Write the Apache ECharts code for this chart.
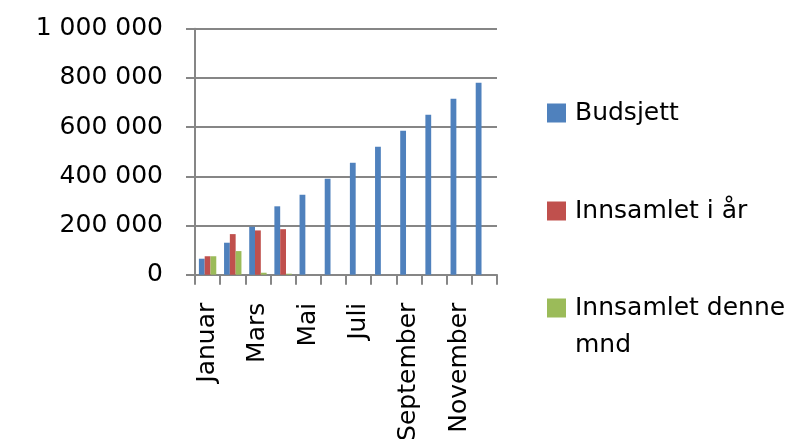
<!DOCTYPE html>
<html>
<head>
<meta charset="utf-8">
<script src="https://cdn.jsdelivr.net/npm/echarts@6/dist/echarts.min.js"></script>
<style>html,body{margin:0;padding:0;background:#fff}#c{width:788px;height:439px}</style>
</head>
<body>
<div id="c"></div>
<script>
const months = ['Januar','Februar','Mars','April','Mai','Juni','Juli','August','September','Oktober','November','Desember'];
const budsjett = [65000,130000,195000,278000,325000,390000,455000,520000,585000,650000,715000,780000];
const innsamletIAar = [75000,165000,180000,185000,null,null,null,null,null,null,null,null];
const innsamletDenneMnd = [75000,96000,8000,4000,null,null,null,null,null,null,null,null];
const yTicks = [0,200000,400000,600000,800000,1000000];

const FONT = 'DejaVu Sans';
const fmt = v => String(v).replace(/\B(?=(\d{3})+(?!\d))/g, ' ');
const chart = echarts.init(document.getElementById('c'), null, {renderer:'canvas'});
const legendBase = {
  orient:'vertical', left:542, itemWidth:19, itemHeight:19, itemGap:0,
  icon:'rect', textStyle:{fontFamily:FONT, fontSize:25, color:'#000', padding:[0,0,0,4], lineHeight:37},
  selectedMode:false
};
chart.setOption({
  animation:false,
  textStyle:{fontFamily:FONT},
  grid:{left:195, right:291, top:28.7, bottom:164.3, containLabel:false, outerBoundsMode:'none'},
  legend:[
    Object.assign({}, legendBase, {data:['Budsjett'], top:108-18.5}),
    Object.assign({}, legendBase, {data:['Innsamlet i år'], top:206-18.5}),
    Object.assign({}, legendBase, {data:['Innsamlet denne mnd'], top:303-55.5,
      formatter: () => '\nInnsamlet denne\nmnd'})
  ],
  xAxis:{
    type:'category', data:months, boundaryGap:true,
    axisLine:{lineStyle:{color:'#868686', width:2}},
    axisTick:{show:true, length:10, interval:0, lineStyle:{color:'#868686', width:2}},
    axisLabel:{interval:1, rotate:90, margin:28, color:'#000', fontFamily:FONT, fontSize:25}
  },
  yAxis:{
    type:'value', min:0, max:1000000, interval:200000,
    axisLine:{show:true, lineStyle:{color:'#868686', width:2}},
    axisTick:{show:true, length:9, lineStyle:{color:'#868686', width:2}},
    splitLine:{lineStyle:{color:'#868686', width:2}},
    axisLabel:{margin:32, color:'#000', fontFamily:FONT, fontSize:25, formatter:fmt}
  },
  series:[
    {name:'Budsjett', type:'bar', data:budsjett, barWidth:5.8, barGap:'0%', itemStyle:{color:'#4F81BD'}},
    {name:'Innsamlet i år', type:'bar', data:innsamletIAar, barWidth:5.8, barGap:'0%', itemStyle:{color:'#C0504D'}},
    {name:'Innsamlet denne mnd', type:'bar', data:innsamletDenneMnd, barWidth:5.8, barGap:'0%', itemStyle:{color:'#9BBB59'}}
  ]
});
</script>
</body>
</html>
